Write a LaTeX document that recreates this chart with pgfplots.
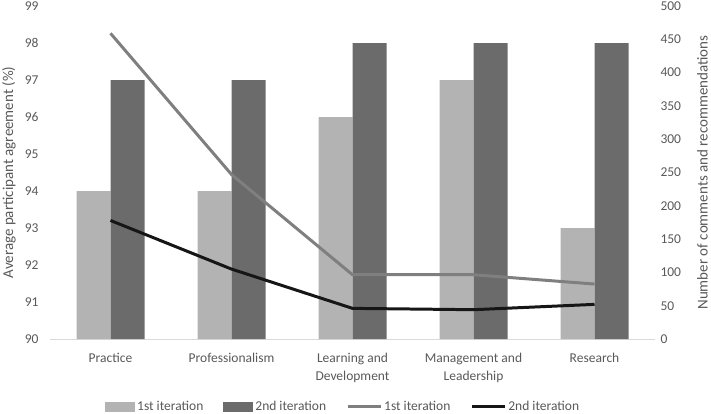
\documentclass[border=0pt]{standalone}
\usepackage{pgfplots}
\pgfplotsset{compat=1.18}
\usepackage{fontspec}
\setmainfont{Carlito}
\definecolor{barA}{HTML}{B3B3B3}
\definecolor{barB}{HTML}{6B6B6B}
\definecolor{lineA}{HTML}{7F7F7F}
\definecolor{lineB}{HTML}{161616}
\definecolor{txt}{HTML}{595959}
\definecolor{axl}{HTML}{D9D9D9}
\begin{document}
\begin{tikzpicture}
\pgfplotsset{
  common/.style={
    scale only axis, width=605bp, height=333bp,
    xmin=-0.5, xmax=4.5,
    major tick length=0pt,
    tick label style={font=\fontsize{13.5bp}{18bp}\selectfont, text=txt},
    label style={font=\fontsize{15bp}{17bp}\selectfont, text=txt},
    /pgf/number format/assume math mode=true,
    clip=true,
  }
}
\begin{axis}[common,
  ymin=90, ymax=99, ytick={90,91,...,99},
  axis x line*=bottom, axis y line*=left,
  x axis line style={draw=axl, line width=0.8pt, -},
  y axis line style={draw=none},
  xtick={0,1,2,3,4},
  xticklabels={Practice,Professionalism,{Learning and\\Development},{Management and\\Leadership},Research},
  xticklabel style={align=center, yshift=-11bp},
  yticklabel style={xshift=-8bp},
  ylabel={Average participant agreement (\%)},
  ylabel style={at={(axis description cs:-0.0678,0.5)}, anchor=center},
  ybar=0pt, bar width=34bp,
  legend columns=4,
  legend style={draw=none, at={(0.4846,-0.204)}, anchor=center,
    font=\fontsize{13.5bp}{16bp}\selectfont, text=txt,
    /tikz/every even column/.append style={column sep=18bp},
    /tikz/every odd column/.append style={column sep=0bp}},
  legend cell align=left,
]
\coordinate (ll) at (rel axis cs:0,0);
\coordinate (ur) at (rel axis cs:1,1);
\addplot[fill=barA, draw=none, area legend,
  legend image code/.code={\fill[barA] (0bp,-5bp) rectangle (30bp,5bp);}]
  coordinates {(0,94) (1,94) (2,96) (3,97) (4,93)};
\addlegendentry{1st iteration}
\addplot[fill=barB, draw=none, area legend,
  legend image code/.code={\fill[barB] (0bp,-5bp) rectangle (30bp,5bp);}]
  coordinates {(0,97) (1,97) (2,98) (3,98) (4,98)};
\addlegendentry{2nd iteration}
\addlegendimage{legend image code/.code={\draw[lineA, line width=3pt] (0bp,0bp) -- (33bp,0bp);}}
\addlegendentry{1st iteration}
\addlegendimage{legend image code/.code={\draw[lineB, line width=3pt] (0bp,0bp) -- (33bp,0bp);}}
\addlegendentry{2nd iteration}
\end{axis}
\begin{axis}[common,
  ymin=0, ymax=500, ytick={0,50,...,500},
  axis y line*=right, axis x line=none,
  y axis line style={draw=none},
  yticklabel style={xshift=2bp},
  ylabel={Number of comments and recommendations},
  ylabel style={at={(axis description cs:1.0785,0.5)}, anchor=center, rotate=0},
]
\addplot[lineA, line width=3pt, no marks]
  coordinates {(0,459) (1,247) (2,96.5) (3,96.5) (4,82.5)};
\addplot[lineB, line width=3pt, no marks]
  coordinates {(0,178) (1,105) (2,46) (3,44) (4,52)};
\end{axis}
\pgfresetboundingbox
\path ([xshift=-50bp,yshift=-74bp]ll) rectangle ([xshift=56bp,yshift=6bp]ur);
\end{tikzpicture}
\end{document}
